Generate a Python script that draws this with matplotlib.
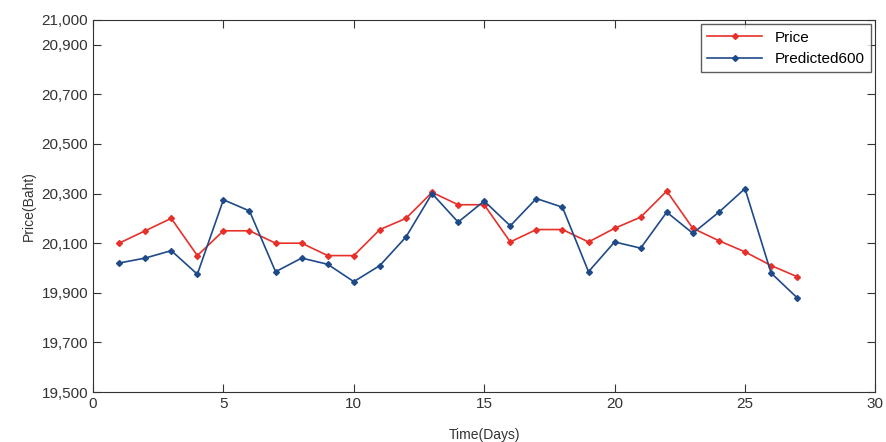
import matplotlib
matplotlib.use("Agg")
import matplotlib.pyplot as plt
from matplotlib.ticker import FuncFormatter

plt.rcParams['font.family'] = ['Liberation Sans', 'DejaVu Sans']

days = list(range(1, 28))
price = [20100, 20150, 20200, 20050, 20150, 20150, 20100, 20100, 20050, 20050,
         20155, 20200, 20305, 20255, 20255, 20105, 20155, 20155, 20105, 20160,
         20205, 20310, 20160, 20110, 20065, 20010, 19965]
predicted = [20020, 20040, 20070, 19975, 20275, 20230, 19985, 20040, 20015, 19945,
             20010, 20125, 20300, 20185, 20270, 20170, 20280, 20245, 19985, 20105,
             20080, 20225, 20140, 20225, 20320, 19980, 19880]
xticks = [0, 5, 10, 15, 20, 25, 30]
yticks = [19500, 19700, 19900, 20100, 20300, 20500, 20700, 20900, 21000]

fig = plt.figure(figsize=(8.86, 4.42), dpi=100)
ax = fig.add_axes([0.105, 0.113, 0.883, 0.842])

ax.plot(days, price, color='#e8302a', lw=1.2, marker='D', ms=3, label='Price')
ax.plot(days, predicted, color='#1f4a8a', lw=1.2, marker='D', ms=3, label='Predicted600')

ax.set_xlim(0, 30)
ax.set_ylim(19500, 21000)
ax.set_xticks(xticks)
ax.set_yticks(yticks)
ax.yaxis.set_major_formatter(FuncFormatter(lambda v, p: f"{int(v):,}"))
ax.tick_params(direction='in', length=6, top=True, right=True, labelsize=11, colors='#333333')
for s in ax.spines.values():
    s.set_color('#333333')

ax.set_xlabel('Time(Days)', fontsize=10, labelpad=12, color='#333333')
ax.set_ylabel('Price(Baht)', fontsize=10, labelpad=4, color='#333333')

leg = ax.legend(loc='upper right', fontsize=11, fancybox=False, edgecolor='#333333',
                handlelength=3.6, borderaxespad=0.3)
leg.get_frame().set_linewidth(1.0)

fig.savefig('out.png', dpi=100)
